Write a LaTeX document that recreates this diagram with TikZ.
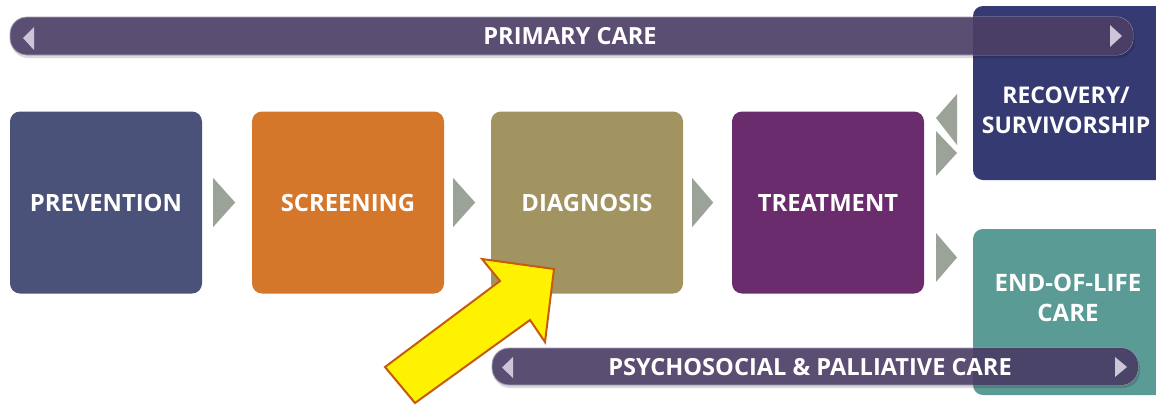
\documentclass[tikz,border=0pt]{standalone}
\usepackage{fontspec}
\setmainfont{Open Sans}
\usetikzlibrary{calc}
\definecolor{cprev}{HTML}{4B5279}
\definecolor{cscr}{HTML}{D5772B}
\definecolor{cdiag}{HTML}{A29460}
\definecolor{ctreat}{HTML}{6A2C6C}
\definecolor{crecov}{HTML}{353A72}
\definecolor{ceol}{HTML}{5A9B96}
\definecolor{cbar}{HTML}{5B4E73}
\definecolor{cbarover}{HTML}{4A3D66}
\definecolor{cbarovereol}{HTML}{4A4468}
\definecolor{cchev}{HTML}{9BA398}
\definecolor{cbartri}{HTML}{CBC7D8}
\definecolor{carrowline}{HTML}{C55A11}
\tikzset{
  stagebox/.style={rounded corners=10pt, minimum width=192pt, minimum height=182pt, inner sep=0pt,
    text=white, font=\fontsize{23.8}{30}\selectfont\bfseries, align=center},
  outtext/.style={text=white, font=\fontsize{23}{30}\selectfont\bfseries, align=center, inner sep=0pt},
  barshape/.style={rounded corners=17pt, fill=cbar, draw=cbar!55!white, line width=0.8pt},
  bartext/.style={text=white, font=\fontsize{23.6}{28}\selectfont\bfseries, inner sep=0pt},
  chev/.style={fill=cchev},
  bartri/.style={fill=cbartri},
  bigarrow/.style={fill=yellow, draw=carrowline, line width=2pt, line join=miter}
}
\begin{document}
\begin{tikzpicture}[x=1pt,y=-1pt]
\useasboundingbox (0,0) rectangle (1156,405);
\clip (0,0) rectangle (1156,405);
% stage boxes
\node[stagebox, fill=cprev] (prev) at (106,202.5) {PREVENTION};
\node[stagebox, fill=cscr] (scr) at (348,202.5) {SCREENING};
\node[stagebox, fill=cdiag] (diag) at (587,202.5) {DIAGNOSIS};
\node[stagebox, fill=ctreat] (treat) at (828,202.5) {TREATMENT};
% outcome boxes (cut at right edge)
\fill[crecov, rounded corners=10pt] (973,6) rectangle (1185,180);
\node[outtext] (recov) at (1066,110) {RECOVERY/\\SURVIVORSHIP};
\fill[ceol, rounded corners=10pt] (973,229) rectangle (1185,395);
\node[outtext, font=\fontsize{24}{30}\selectfont\bfseries] (eol) at (1068,298) {END-OF-LIFE\\CARE};
% chevrons between stages
\fill[chev] ($(prev.east)+(11,-24.5)$) -- ($(prev.east)+(33,0)$) -- ($(prev.east)+(11,24.5)$) -- cycle;
\fill[chev] ($(scr.east)+(9,-24.5)$) -- ($(scr.east)+(31,0)$) -- ($(scr.east)+(9,24.5)$) -- cycle;
\fill[chev] ($(diag.east)+(9,-24.5)$) -- ($(diag.east)+(30,0)$) -- ($(diag.east)+(9,24.5)$) -- cycle;
% chevrons to outcomes
\fill[chev] (957,94) -- (936,118) -- (957,145) -- cycle;
\fill[chev] (936,131) -- (957,153) -- (936,176) -- cycle;
\fill[chev] (936,233) -- (957,257.5) -- (936,282) -- cycle;
% primary care bar
\fill[black, opacity=0.15, rounded corners=17pt] (11,20) rectangle (1135,58);
\path[barshape] (10,17) rectangle (1133,55);
\begin{scope}
  \clip[rounded corners=10pt] (973,6) rectangle (1185,180);
  \fill[cbarover, rounded corners=17pt] (10,17) rectangle (1133,55);
\end{scope}
\node[bartext] (primary) at (570,36) {PRIMARY CARE};
\fill[bartri] (23,38) -- (34,27) -- (34,50) -- cycle;
\fill[bartri] (1110,25) -- (1122,36) -- (1110,47) -- cycle;
% psychosocial bar
\fill[black, opacity=0.15, rounded corners=17pt] (493,351) rectangle (1140,388);
\path[barshape] (492,348) rectangle (1138,385);
\begin{scope}
  \clip[rounded corners=10pt] (973,229) rectangle (1185,395);
  \fill[cbarovereol, rounded corners=17pt] (492,348) rectangle (1138,385);
\end{scope}
\node[bartext] (psycho) at (810,367) {PSYCHOSOCIAL \& PALLIATIVE CARE};
\fill[bartri] (502,367.5) -- (513,357) -- (513,378) -- cycle;
\fill[bartri] (1115,357) -- (1127,367) -- (1115,377) -- cycle;
% yellow arrow pointing at diagnosis
\coordinate (tip) at (554,269);
\draw[bigarrow] (385,367) -- (500,281) -- (482,259) -- (tip) -- (545,342) -- (530,320) -- (415,403) -- cycle;
\end{tikzpicture}
\end{document}
